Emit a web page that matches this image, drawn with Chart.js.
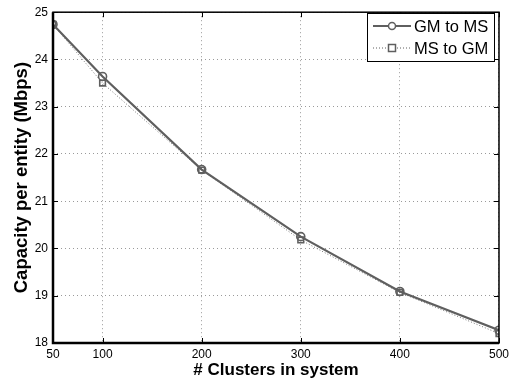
<!DOCTYPE html>
<html>
<head>
<meta charset="utf-8">
<script src="https://cdn.jsdelivr.net/npm/chart.js@4/dist/chart.umd.min.js"></script>
<style>
  html,body{margin:0;padding:0;background:#fff;}
  #wrap{width:513px;height:382px;position:relative;}
</style>
</head>
<body>
<div id="wrap"><canvas id="c"></canvas></div>
<script>
// data
const clusters = [50, 100, 200, 300, 400, 500];
const gmToMs   = [24.74, 23.64, 21.67, 20.25, 19.09, 18.27];
const msToGm   = [24.74, 23.50, 21.66, 20.18, 19.07, 18.20];
const xTicks   = [50, 100, 200, 300, 400, 500];
const yTicks   = [18, 19, 20, 21, 22, 23, 24, 25];
const seriesNames = ['GM to MS', 'MS to GM'];

const FONT = "'Liberation Sans', Arial, Helvetica, sans-serif";
const LINE = '#5f5f5f';

// frame, inward ticks and legend box
const framePlugin = {
  id:'frame',
  afterDraw(chart){
    const {ctx, chartArea:a, scales} = chart;
    ctx.save();
    ctx.strokeStyle = '#000';
    ctx.lineWidth = 1;
    xTicks.forEach(v=>{
      const px = Math.round(scales.x.getPixelForValue(v)) + 0.5;
      ctx.beginPath();
      ctx.moveTo(px, a.bottom); ctx.lineTo(px, a.bottom-5);
      ctx.moveTo(px, a.top); ctx.lineTo(px, a.top+5);
      ctx.stroke();
    });
    yTicks.forEach(v=>{
      const py = Math.round(scales.y.getPixelForValue(v)) + 0.5;
      ctx.beginPath();
      ctx.moveTo(a.left, py); ctx.lineTo(a.left+5, py);
      ctx.moveTo(a.right, py); ctx.lineTo(a.right-5, py);
      ctx.stroke();
    });
    ctx.lineWidth = 1.5;
    ctx.strokeRect(a.left, a.top, a.right-a.left, a.bottom-a.top);
    ctx.lineWidth = 2.5;
    ctx.beginPath();
    ctx.moveTo(a.left, a.top); ctx.lineTo(a.left, a.bottom); ctx.lineTo(a.right, a.bottom);
    ctx.stroke();

    // legend
    const lx = 367, ly = 13, lw = 127, lh = 48;
    ctx.fillStyle = '#fff';
    ctx.fillRect(lx, ly, lw, lh);
    ctx.lineWidth = 1;
    ctx.strokeStyle = '#000';
    ctx.strokeRect(lx+0.5, ly+0.5, lw, lh);
    ctx.font = '16.5px ' + FONT;
    ctx.textBaseline = 'middle';
    chart.data.datasets.forEach((ds, i)=>{
      const cy = ly + 13 + i*22;
      ctx.strokeStyle = LINE;
      ctx.lineWidth = ds.borderWidth;
      ctx.setLineDash(ds.borderDash || []);
      ctx.beginPath(); ctx.moveTo(lx+6, cy); ctx.lineTo(lx+44, cy); ctx.stroke();
      ctx.setLineDash([]);
      ctx.lineWidth = 1.5;
      ctx.fillStyle = '#fff';
      if (ds.pointStyle === 'circle'){
        ctx.beginPath(); ctx.arc(lx+25, cy, 3.5, 0, Math.PI*2); ctx.fill(); ctx.stroke();
      } else {
        ctx.fillRect(lx+21.5, cy-3.5, 7, 7); ctx.strokeRect(lx+21.5, cy-3.5, 7, 7);
      }
      ctx.fillStyle = '#000';
      ctx.fillText(ds.label, lx+47, cy+1);
    });
    ctx.restore();
  }
};

new Chart(document.getElementById('c'), {
  type:'line',
  data:{
    datasets:[
      { label:seriesNames[0], data:clusters.map((x,i)=>({x, y:gmToMs[i]})),
        borderColor:LINE, borderWidth:2.2, pointStyle:'circle', pointRadius:4,
        pointBorderWidth:1.6, pointBorderColor:LINE, pointBackgroundColor:'rgba(255,255,255,0)', tension:0 },
      { label:seriesNames[1], data:clusters.map((x,i)=>({x, y:msToGm[i]})),
        borderColor:'#777', borderWidth:1, borderDash:[1,2], pointStyle:'rect', pointRadius:4,
        pointBorderWidth:1.6, pointBorderColor:LINE, pointBackgroundColor:'rgba(255,255,255,0)', tension:0 }
    ]
  },
  options:{
    responsive:true, maintainAspectRatio:false, animation:false,
    layout:{ padding:{ left:0, right:9, top:9.8, bottom:0 } },
    plugins:{ legend:{ display:false }, tooltip:{ enabled:false } },
    scales:{
      x:{
        type:'linear', min:50, max:500,
        afterBuildTicks:(s)=>{ s.ticks = xTicks.map(v=>({value:v})); },
        afterFit:(s)=>{ s.height = 39; },
        grid:{ color:'#9a9a9a', lineWidth:1, drawTicks:false },
        border:{ display:false, dash:[1,3] },
        ticks:{ color:'#000', font:{ family:FONT, size:12 }, padding:4, maxRotation:0, autoSkip:false },
        title:{ display:true, text:'# Clusters in system', color:'#000',
          font:{ family:FONT, size:17, weight:'bold' }, padding:{ top:0, bottom:1 } }
      },
      y:{
        min:18, max:25,
        afterBuildTicks:(s)=>{ s.ticks = yTicks.map(v=>({value:v})); },
        afterFit:(s)=>{ s.width = 53; },
        grid:{ color:'#9a9a9a', lineWidth:1, drawTicks:false },
        border:{ display:false, dash:[1,3] },
        ticks:{ color:'#000', font:{ family:FONT, size:12 }, padding:5 },
        title:{ display:true, text:'Capacity per entity (Mbps)', color:'#000',
          font:{ family:FONT, size:18.5, weight:'bold' }, padding:{ top:11, bottom:0 } }
      }
    }
  },
  plugins:[framePlugin]
});
</script>
</body>
</html>
